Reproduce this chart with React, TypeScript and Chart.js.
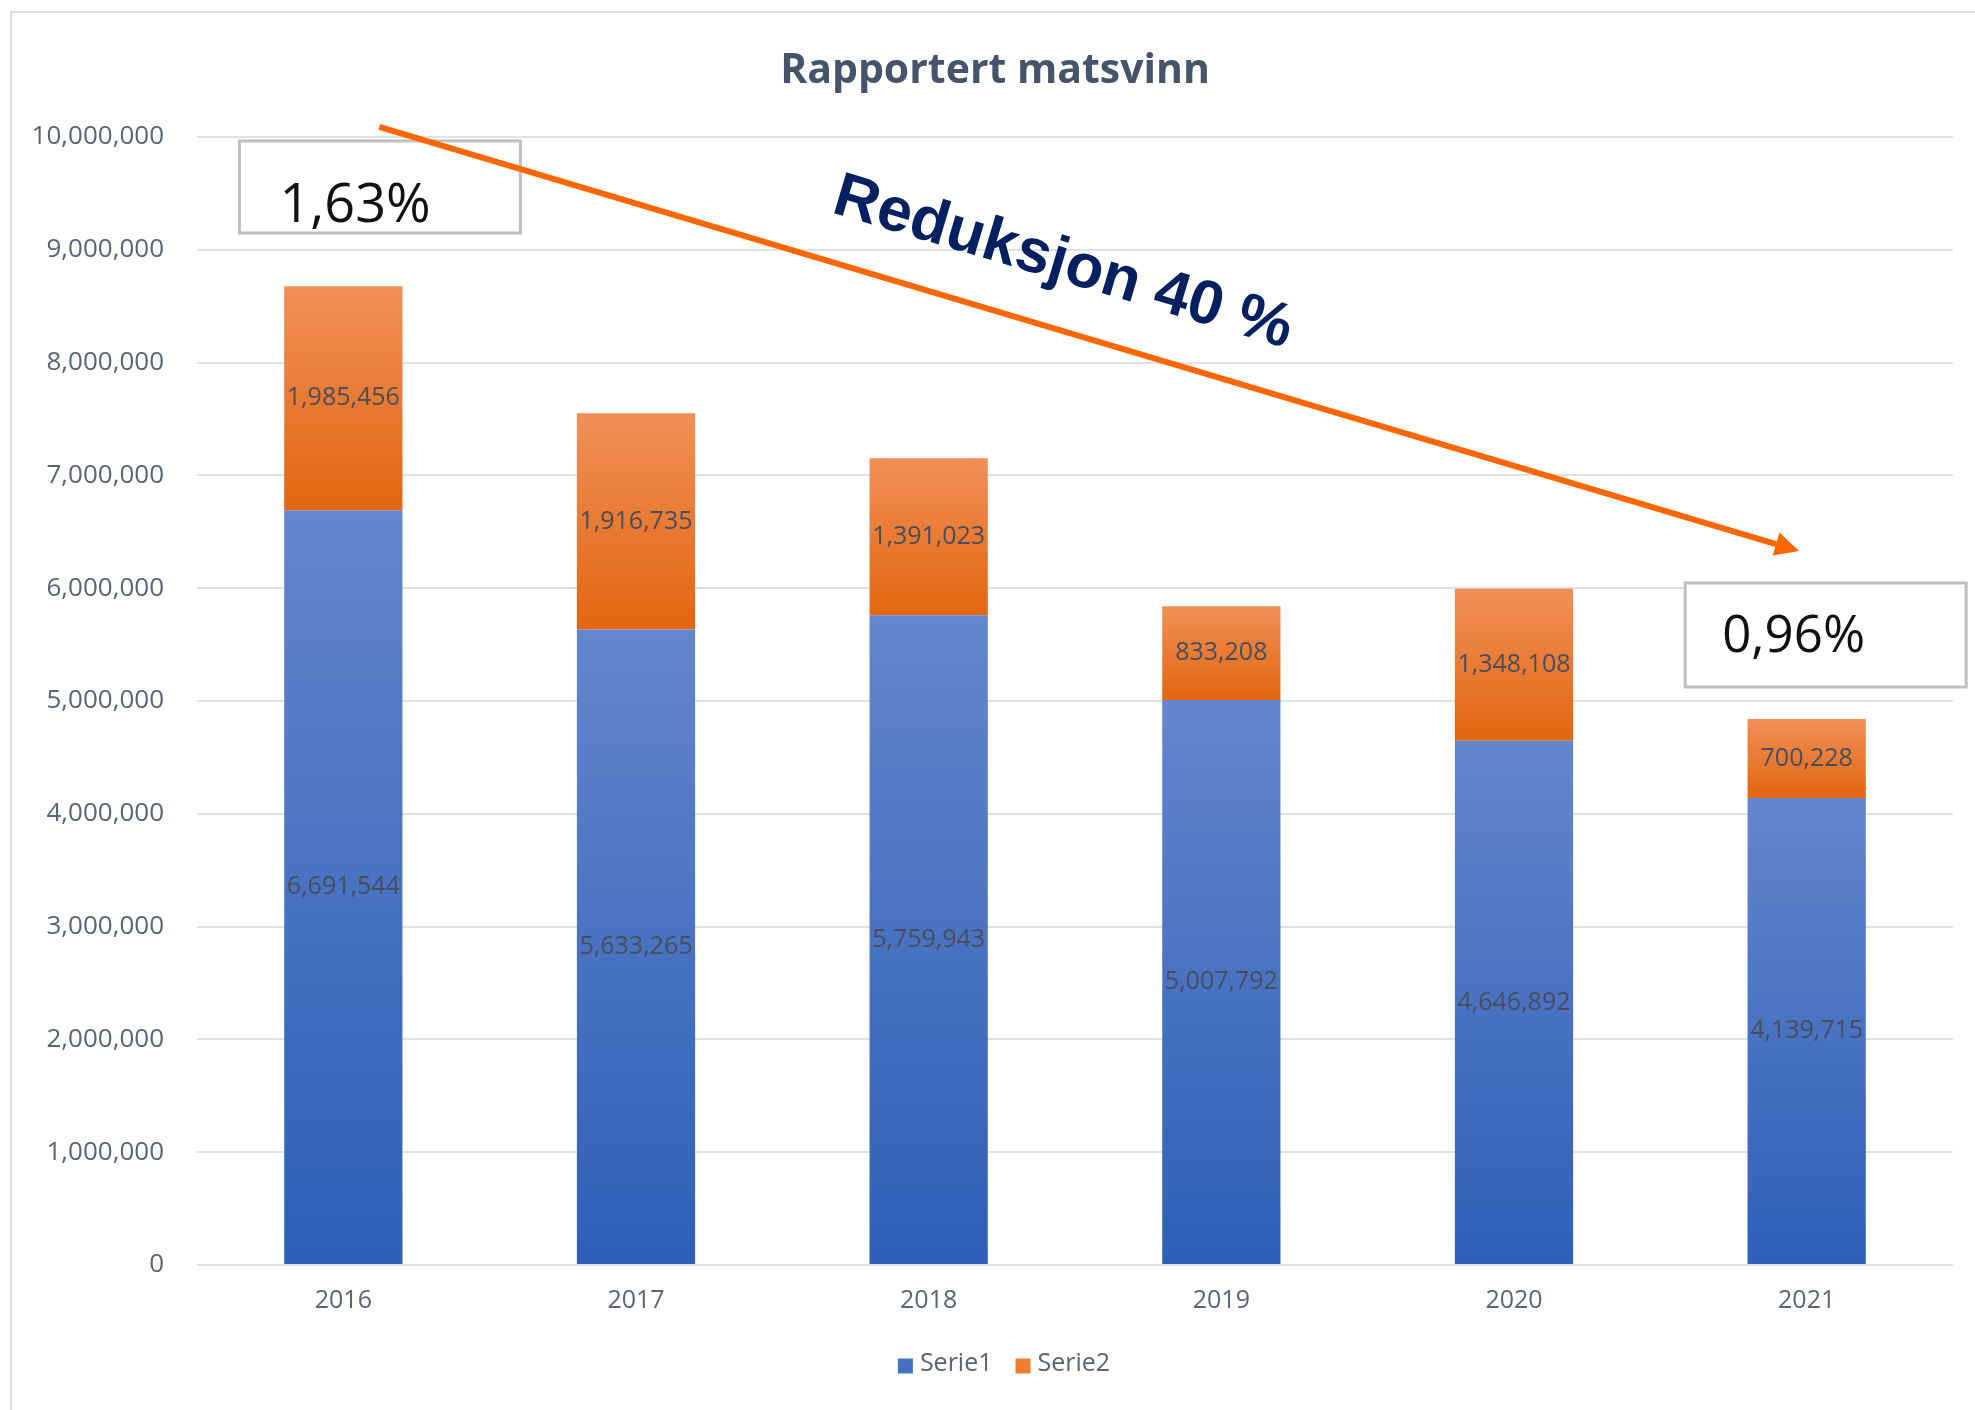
import React, { useEffect, useRef } from "react";
import { Chart, registerables } from "chart.js";

Chart.register(...registerables);

// ---------- data ----------
const categories = ["2016", "2017", "2018", "2019", "2020", "2021"];
const seriesNames = ["Serie1", "Serie2"];
const serie1 = [6691544, 5633265, 5759943, 5007792, 4646892, 4139715];
const serie2 = [1985456, 1916735, 1391023, 833208, 1348108, 700228];
const yMin = 0;
const yMax = 10000000;
const yStep = 1000000;
const chartTitle = "Rapportert matsvinn";
const shareLabels = ["1,63%", "0,96%"];
const arrowLabel = "Reduksjon 40 %";

// ---------- styles ----------
const FONT = '"Open Sans", "Noto Sans", sans-serif';
const AXIS_COLOR = "#586478";
const LABEL_COLOR = "#474e5c";
const GRID_COLOR = "#dde1e8";
const legendColors = ["#4472c4", "#ed7d31"];
const gradients = [
  ["#6486cc", "#2e5fb8"],
  ["#f18f58", "#e2660f"],
];

// annotation placement in data space (category index, value)
const annotationBoxes = [
  { text: shareLabels[0], x0: -0.355, x1: 0.605, y0: 9965000, y1: 9149000, dx: 40, baseDy: 81, size: 54 },
  { text: shareLabels[1], x0: 4.585, x1: 5.545, y0: 6046000, y1: 5124000, dx: 37, baseDy: 69, size: 51 },
];
const arrowSpec = { x0: 0.123, y0: 10089000, x1: 4.974, y1: 6330000, textX: 1.664, textY: 9335000 };
const legendLayout = { centerX: 1004, centerY: 1364, box: 15, textGap: 7, itemGap: 23, size: 25 };

const stacks = [serie1, serie2];

function segmentGradient(c: any) {
  const ds = c.datasetIndex ?? 0;
  const chart = c.chart;
  if (c.type !== "data" || !chart.chartArea || !chart.scales?.y) return legendColors[ds];
  const i = c.dataIndex;
  let base = 0;
  for (let k = 0; k < ds; k++) base += stacks[k][i];
  const top = base + stacks[ds][i];
  const yTop = chart.scales.y.getPixelForValue(top);
  const yBase = chart.scales.y.getPixelForValue(base);
  if (!isFinite(yTop) || !isFinite(yBase) || yTop === yBase) return legendColors[ds];
  const g = chart.ctx.createLinearGradient(0, yTop, 0, yBase);
  g.addColorStop(0, gradients[ds][0]);
  g.addColorStop(1, gradients[ds][1]);
  return g;
}

const decorPlugin = {
  id: "decor",
  beforeDraw(chart: any) {
    const { ctx, width, height } = chart;
    ctx.save();
    ctx.fillStyle = "#ffffff";
    ctx.fillRect(0, 0, width, height);
    ctx.strokeStyle = "#d9dde3";
    ctx.lineWidth = 2;
    ctx.beginPath();
    ctx.moveTo(11, height);
    ctx.lineTo(11, 12);
    ctx.lineTo(width, 12);
    ctx.stroke();
    ctx.restore();
  },
  afterDatasetsDraw(chart: any) {
    const { ctx } = chart;
    ctx.save();
    ctx.font = `25px ${FONT}`;
    ctx.fillStyle = LABEL_COLOR;
    ctx.textAlign = "center";
    ctx.textBaseline = "middle";
    chart.data.datasets.forEach((ds: any, di: number) => {
      const meta = chart.getDatasetMeta(di);
      meta.data.forEach((el: any, i: number) => {
        const p = el.getCenterPoint();
        ctx.fillText(Number(ds.data[i]).toLocaleString("en-US"), p.x, p.y);
      });
    });
    ctx.restore();
  },
  afterDraw(chart: any) {
    const { ctx, scales } = chart;
    const x = scales.x;
    const y = scales.y;
    ctx.save();
    // title
    ctx.font = `700 41px ${FONT}`;
    ctx.fillStyle = "#44546a";
    ctx.textAlign = "center";
    ctx.textBaseline = "alphabetic";
    ctx.fillText(chartTitle, 995, 83);

    // legend
    const L = legendLayout;
    ctx.font = `${L.size}px ${FONT}`;
    const widths = chart.data.datasets.map((d: any) => ctx.measureText(d.label).width);
    const itemW = widths.map((w: number) => L.box + L.textGap + w);
    const total = itemW.reduce((a: number, b: number) => a + b, 0) + L.itemGap * (itemW.length - 1);
    let cx = L.centerX - total / 2;
    chart.data.datasets.forEach((d: any, i: number) => {
      ctx.fillStyle = legendColors[i];
      ctx.fillRect(cx, L.centerY - L.box / 2 + 2, L.box, L.box);
      ctx.fillStyle = AXIS_COLOR;
      ctx.textAlign = "left";
      ctx.textBaseline = "middle";
      ctx.fillText(d.label, cx + L.box + L.textGap, L.centerY);
      cx += itemW[i] + L.itemGap;
    });

    // boxes
    annotationBoxes.forEach((b) => {
      const l = x.getPixelForValue(b.x0);
      const r = x.getPixelForValue(b.x1);
      const t = y.getPixelForValue(b.y0);
      const bt = y.getPixelForValue(b.y1);
      ctx.fillStyle = "#ffffff";
      ctx.fillRect(l, t, r - l, bt - t);
      ctx.strokeStyle = "#bfbfbf";
      ctx.lineWidth = 3;
      ctx.strokeRect(l, t, r - l, bt - t);
      ctx.font = `${b.size}px ${FONT}`;
      ctx.fillStyle = "#111111";
      ctx.textAlign = "left";
      ctx.textBaseline = "alphabetic";
      ctx.fillText(b.text, l + b.dx, t + b.baseDy);
    });

    // arrow
    const sx = x.getPixelForValue(arrowSpec.x0);
    const sy = y.getPixelForValue(arrowSpec.y0);
    const ex = x.getPixelForValue(arrowSpec.x1);
    const ey = y.getPixelForValue(arrowSpec.y1);
    const ang = Math.atan2(ey - sy, ex - sx);
    const headLen = 24;
    const headHalf = 12;
    const bx = ex - headLen * Math.cos(ang);
    const by = ey - headLen * Math.sin(ang);
    ctx.strokeStyle = "#fe6700";
    ctx.fillStyle = "#fe6700";
    ctx.lineWidth = 6;
    ctx.lineCap = "butt";
    ctx.beginPath();
    ctx.moveTo(sx, sy);
    ctx.lineTo(bx, by);
    ctx.stroke();
    ctx.beginPath();
    ctx.moveTo(ex, ey);
    ctx.lineTo(bx + headHalf * Math.sin(ang), by - headHalf * Math.cos(ang));
    ctx.lineTo(bx - headHalf * Math.sin(ang), by + headHalf * Math.cos(ang));
    ctx.closePath();
    ctx.fill();

    // rotated label
    const tx = x.getPixelForValue(arrowSpec.textX);
    const ty = y.getPixelForValue(arrowSpec.textY);
    ctx.translate(tx, ty);
    ctx.rotate(ang);
    ctx.font = `bold 62px "Liberation Sans", Arial, sans-serif`;
    ctx.fillStyle = "#002060";
    ctx.textAlign = "left";
    ctx.textBaseline = "alphabetic";
    ctx.fillText(arrowLabel, 0, 0);
    ctx.restore();
  },
};

export default function App() {
  const ref = useRef<HTMLCanvasElement | null>(null);

  useEffect(() => {
    if (!ref.current) return;
    const chart = new Chart(ref.current, {
      type: "bar",
      data: {
        labels: categories,
        datasets: [
          { label: seriesNames[0], data: serie1, backgroundColor: segmentGradient, borderWidth: 0 },
          { label: seriesNames[1], data: serie2, backgroundColor: segmentGradient, borderWidth: 0 },
        ],
      },
      options: {
        responsive: false,
        animation: false,
        devicePixelRatio: 1,
        layout: { padding: { left: 0, right: 22, top: 137, bottom: 71 } },
        datasets: { bar: { categoryPercentage: 0.404, barPercentage: 1 } },
        plugins: {
          title: { display: false },
          tooltip: { enabled: false },
          legend: { display: false },
        },
        scales: {
          x: {
            stacked: true,
            grid: { display: false, drawTicks: false },
            border: { display: false },
            ticks: { font: { family: FONT, size: 25 }, color: AXIS_COLOR, padding: 21 },
            afterFit: (s: any) => {
              s.height = 74;
            },
          },
          y: {
            stacked: true,
            min: yMin,
            max: yMax,
            grid: { color: GRID_COLOR, lineWidth: 2, drawTicks: false },
            border: { display: false },
            ticks: {
              stepSize: yStep,
              font: { family: FONT, size: 26 },
              color: AXIS_COLOR,
              padding: 33,
              callback: (v: any) => Number(v).toLocaleString("en-US"),
            },
            afterFit: (s: any) => {
              s.width = 197;
            },
          },
        },
      },
      plugins: [decorPlugin],
    });
    return () => chart.destroy();
  }, []);

  return (
    <div style={{ position: "fixed", left: 0, top: 0, width: 1975, height: 1410, background: "#fff" }}>
      <canvas ref={ref} width={1975} height={1410} style={{ display: "block" }} />
    </div>
  );
}
